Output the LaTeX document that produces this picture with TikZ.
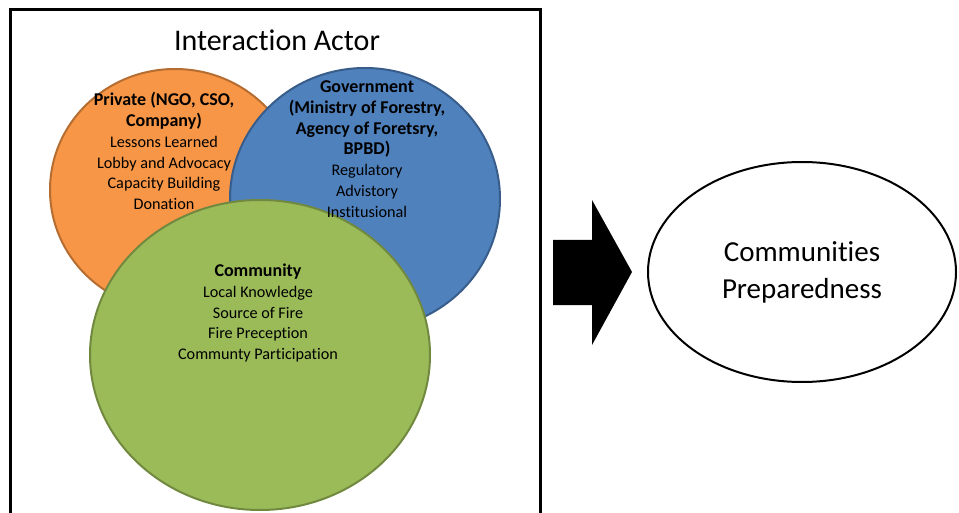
\documentclass[tikz,border=0pt]{standalone}
\usepackage{fontspec}
\setmainfont{Carlito}[Ligatures=NoCommon]
\usetikzlibrary{shapes.geometric}

\definecolor{privfill}{HTML}{F79646}
\definecolor{privline}{HTML}{B66D31}
\definecolor{govfill}{HTML}{4F81BD}
\definecolor{govline}{HTML}{385D8A}
\definecolor{comfill}{HTML}{9BBB59}
\definecolor{comline}{HTML}{71893F}

\newcommand{\head}[1]{{\fontsize{18}{20.8}\selectfont\bfseries #1}}

\tikzset{
  actor/.style={ellipse, line width=2pt, inner sep=0pt},
  info/.style={align=center, font=\fontsize{16.2}{20.8}\selectfont},
}

\begin{document}
\begin{tikzpicture}[x=1pt, y=-1pt]
        \useasboundingbox (0,0) rectangle (959,513);
        % Draw the frame and its title
        \draw[line width=3pt] (10,10) rectangle (540,530);
        \node[font=\fontsize{30}{34}\selectfont] at (277,40) (title) {Interaction Actor};
        % Draw the actors
        \node[actor, draw=privline, fill=privfill,
              minimum width=250, minimum height=242] at (175,190) (priv) {};
        \node[actor, draw=govline, fill=govfill,
              minimum width=270, minimum height=262] at (365,199) (gov) {};
        \node[actor, draw=comline, fill=comfill,
              minimum width=340, minimum height=310] at (260,355) (com) {};
        % Texts of the actors
        \node[info] at (164,151) (privtxt)
            {\head{Private (NGO, CSO,}\\\head{Company)}\\Lessons Learned\\
             Lobby and Advocacy\\Capacity Building\\Donation};
        \node[info] at (367,149) (govtxt)
            {\head{Government}\\\head{(Ministry of Forestry,}\\
             \head{Agency of Foretsry,}\\\head{BPBD)}\\Regulatory\\
             Advistory\\Institusional};
        \node[info] at (258,313) (comtxt)
            {\head{Community}\\Local Knowledge\\Source of Fire\\
             Fire Preception\\Communty Participation};
        % Draw the block arrow
        \fill (553,240) -- (592,240) -- (592,200) -- (632,272) -- (592,345)
              -- (592,305) -- (553,305) -- cycle;
        % Draw the outcome
        \node[ellipse, draw, line width=2pt, minimum width=308, minimum height=220,
              align=center, font=\fontsize{29}{37}\selectfont]
            at (802,272) (prep) {Communities\\Preparedness};
\end{tikzpicture}
\end{document}
